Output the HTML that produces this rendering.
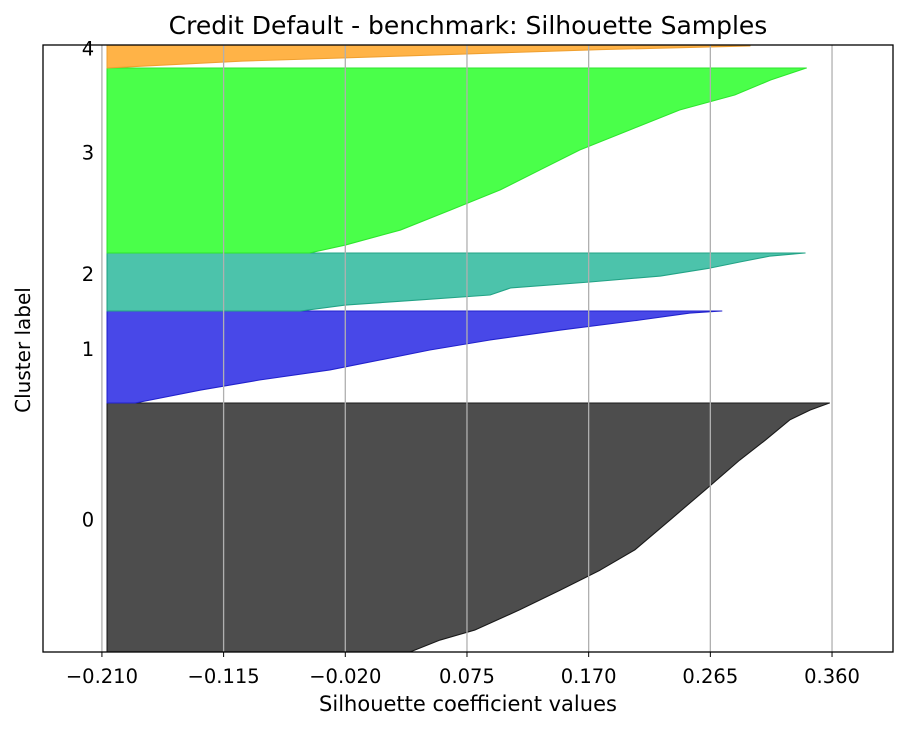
<!DOCTYPE html>
<html><head><meta charset="utf-8"><style>
body{margin:0;background:#fff;}
svg text{font-family:"DejaVu Sans","Liberation Sans",sans-serif;}
</style></head><body>
<svg id="chart" width="912" height="730"></svg>
<script>
const clusterLabels=["0","1","2","3","4"];
const clusterSizes=[249,92,58,185,23];
const fracs0=[0,0.048,0.088,0.169,0.249,0.329,0.41,0.53,0.651,0.771,0.851,0.932,0.972,1];
const vals0=[0.0305,0.054,0.081,0.116,0.148,0.179,0.206,0.2335,0.261,0.288,0.308,0.327,0.343,0.358];
const fracs1=[0,0.141,0.25,0.359,0.576,0.685,0.793,0.902,0.978,1];
const vals1=[-0.184,-0.133,-0.087,-0.032,0.046,0.093,0.148,0.21,0.249,0.274];
const fracs2=[0,0.103,0.19,0.276,0.397,0.5,0.603,0.741,0.845,0.948,1];
const vals2=[-0.055,-0.02,0.038,0.093,0.109,0.171,0.226,0.265,0.288,0.312,0.339];
const fracs3=[0,0.043,0.124,0.232,0.341,0.449,0.557,0.665,0.773,0.854,0.935,1];
const vals3=[-0.048,-0.02,0.023,0.062,0.101,0.132,0.163,0.202,0.241,0.284,0.312,0.34];
const fracs4=[0,0.3,0.53,0.8,0.96,1];
const vals4=[-0.206,-0.1,0.03,0.18,0.296,0.296];
const xTicks=[-0.210,-0.115,-0.020,0.075,0.170,0.265,0.360];
const xTickLabels=["−0.210","−0.115","−0.020","0.075","0.170","0.265","0.360"];
const fills=["#4d4d4d","#4848e8","#4cc3ab","#4aff4a","#ffb347"];
const edges=["#1a1a1a","#2222cc","#22a386","#2ee62e","#f0a030"];

const L=43,R=893,T=45,B=652;
const xMin=-0.256,xMax=0.4076;
const x=v=>L+(v-xMin)/(xMax-xMin)*(R-L);
const total=clusterSizes.reduce((a,b)=>a+b,0);
const y=s=>B-s/total*(B-T);
const NS="http://www.w3.org/2000/svg";
const svg=document.getElementById('chart');
function mk(t,a,p){const e=document.createElementNS(NS,t);for(const k in a)e.setAttribute(k,a[k]);(p||svg).appendChild(e);return e;}
const fr=[fracs0,fracs1,fracs2,fracs3,fracs4],vs=[vals0,vals1,vals2,vals3,vals4];
const base=-0.206;
const defs=mk('defs',{});const cp=mk('clipPath',{id:'pc'},defs);mk('rect',{x:L,y:T,width:R-L,height:B-T},cp);
const g=mk('g',{'clip-path':'url(#pc)'});
let start=0;
clusterSizes.forEach((n,i)=>{
  let pts=[[x(base),y(start)]];
  fr[i].forEach((f,j)=>pts.push([x(vs[i][j]),y(start+f*n)]));
  pts.push([x(base),y(start+n)]);
  const p=mk('polygon',{points:pts.map(q=>q.join(',')).join(' '),fill:fills[i],stroke:edges[i],'stroke-width':1.1,'stroke-linejoin':'round'},g);
  
  
  const t=mk('text',{x:88,y:y(start+n/2)-1,'font-size':19.5,'text-anchor':'middle',fill:'#000'});
  t.textContent=clusterLabels[i];
  
  
  start+=n;
});
xTicks.forEach((v,i)=>{
  const l=mk('line',{x1:x(v),x2:x(v),y1:T,y2:B,stroke:'#b0b0b0','stroke-width':1.3});
  
  
  mk('line',{x1:x(v),x2:x(v),y1:B,y2:B+5,stroke:'#000','stroke-width':1});
  const t=mk('text',{x:x(v),y:B+31,'font-size':19.5,'text-anchor':'middle'});
  t.textContent=xTickLabels[i];
  
  
});
const fr2=mk('rect',{x:L,y:T,width:R-L,height:B-T,fill:'none',stroke:'#000','stroke-width':1.3});


</script>
<svg width="912" height="730" style="position:absolute;left:0;top:0">
<text x="468" y="34" font-size="25" text-anchor="middle">Credit Default - benchmark: Silhouette Samples</text>
<text x="468" y="711" font-size="21" text-anchor="middle">Silhouette coefficient values</text>
<text x="30" y="350" font-size="20" text-anchor="middle" transform="rotate(-90 30 350)">Cluster label</text>
</svg>
</body></html>
